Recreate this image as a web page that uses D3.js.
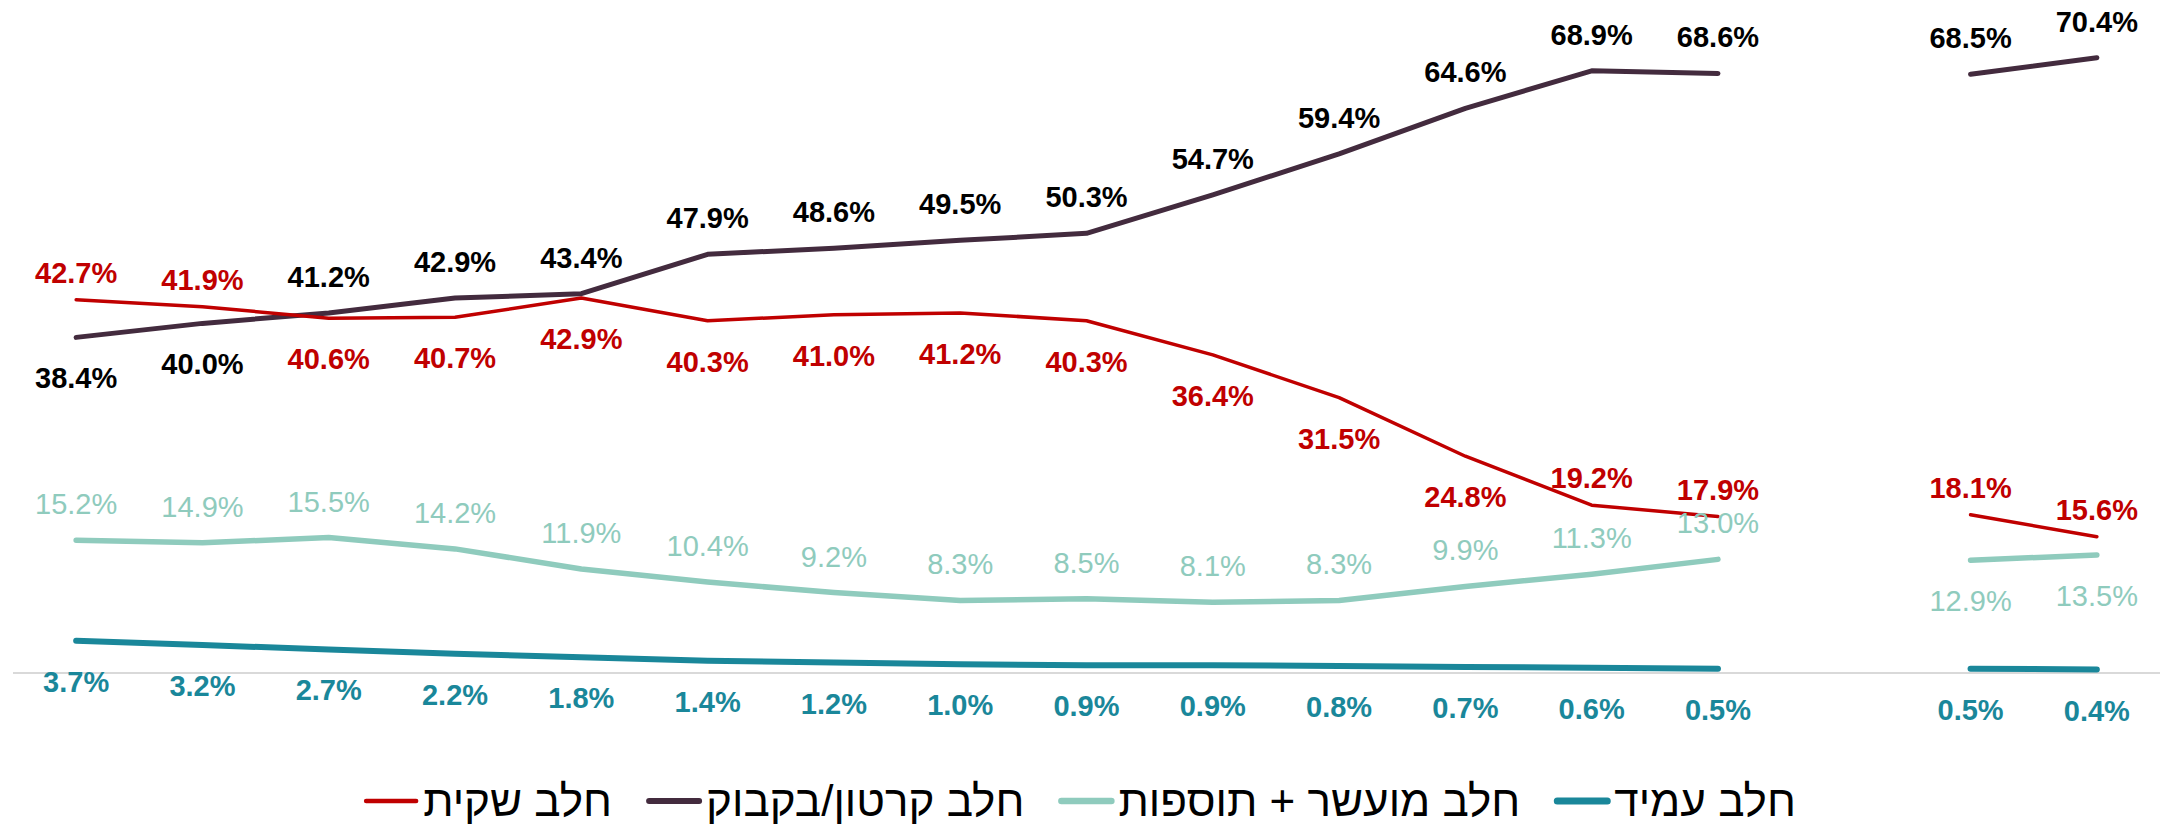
<!DOCTYPE html>
<html>
<head>
<meta charset="utf-8">
<script src="https://cdn.jsdelivr.net/npm/d3@7"></script>
<style>
	html, body { margin: 0; padding: 0; background: #fff; }
	svg { display: block; }
	.lbl { font-family: "Liberation Sans", Arial, sans-serif; font-size: 29px; }
	.legend text { font-family: "Liberation Sans", Arial, sans-serif; font-size: 44px; fill: #000; }
</style>
</head>
<body>
<svg id="chart" width="2173" height="826"></svg>
<script>
// 17 slots along the x axis, one of them is an empty gap in the source chart
const categories = ["1","2","3","4","5","6","7","8","9","10","11","12","13","14","gap","15","16"];

const bagMilk      = [42.7, 41.9, 40.6, 40.7, 42.9, 40.3, 41.0, 41.2, 40.3, 36.4, 31.5, 24.8, 19.2, 17.9, null, 18.1, 15.6];
const cartonMilk   = [38.4, 40.0, 41.2, 42.9, 43.4, 47.9, 48.6, 49.5, 50.3, 54.7, 59.4, 64.6, 68.9, 68.6, null, 68.5, 70.4];
const enrichedMilk = [15.2, 14.9, 15.5, 14.2, 11.9, 10.4, 9.2, 8.3, 8.5, 8.1, 8.3, 9.9, 11.3, 13.0, null, 12.9, 13.5];
const uhtMilk      = [3.7, 3.2, 2.7, 2.2, 1.8, 1.4, 1.2, 1.0, 0.9, 0.9, 0.8, 0.7, 0.6, 0.5, null, 0.5, 0.4];

const seriesNames = ["חלב שקית", "חלב קרטון/בקבוק", "חלב מועשר + תוספות", "חלב עמיד"];

// which side of the point each data label sits on (a = above, b = below)
const bagSide      = "aabbbbbbbbbbaa-aa";
const cartonSide   = "bbaaaaaaaaaaaa-aa";
const enrichedSide = "aaaaaaaaaaaaaa-bb";
const uhtSide      = "bbbbbbbbbbbbbb-bb";

const series = [
	{ name: seriesNames[0], values: bagMilk,      side: bagSide,      color: "#C00000", text: "#C00000", width: 3.5, weight: "bold",   up: 17 },
	{ name: seriesNames[1], values: cartonMilk,   side: cartonSide,   color: "#432B3E", text: "#000000", width: 5,   weight: "bold",   up: 26 },
	{ name: seriesNames[2], values: enrichedMilk, side: enrichedSide, color: "#8FCBBD", text: "#8FCBBD", width: 5.5, weight: "normal", up: 26 },
	{ name: seriesNames[3], values: uhtMilk,      side: uhtSide,      color: "#1A879A", text: "#1A879A", width: 6,   weight: "bold",   up: 26 }
];

const svg = d3.select("#chart");

const x = d3.scaleBand()
	.domain(categories)
	.range([13, 2160]);

const y = d3.scaleLinear()
	.domain([0, 77])
	.range([673, 0]);

const cx = (d, i) => x(categories[i]) + x.bandwidth() / 2;

// baseline
svg.append("line")
	.attr("x1", x.range()[0])
	.attr("x2", x.range()[1])
	.attr("y1", y(0))
	.attr("y2", y(0))
	.attr("stroke", "#D9D9D9")
	.attr("stroke-width", 2);

const line = d3.line()
	.defined(d => d != null)
	.x(cx)
	.y(d => y(d));

// draw from back to front like the original
[3, 2, 1, 0].forEach(k => {
	let s = series[k];
	svg.append("path")
		.datum(s.values)
		.attr("fill", "none")
		.attr("stroke", s.color)
		.attr("stroke-width", s.width)
		.attr("stroke-linecap", "round")
		.attr("stroke-linejoin", "round")
		.attr("d", line);
});

series.forEach(s => {
	let pts = s.values.map((v, i) => ({ v: v, i: i, side: s.side[i] })).filter(p => p.v != null);
	svg.append("g")
		.selectAll("text")
		.data(pts)
		.enter()
		.append("text")
		.attr("class", "lbl")
		.attr("text-anchor", "middle")
		.attr("fill", s.text)
		.attr("font-weight", s.weight)
		.attr("x", p => cx(p.v, p.i))
		.attr("y", p => p.side == "a" ? y(p.v) - s.up : y(p.v) + 51)
		.text(p => p.v.toFixed(1) + "%");
});

// legend
const legend = svg.append("g").attr("class", "legend");
const lineLen = 50, gapText = 7, gapItem = 37, legendY = 801;
let items = legend.selectAll("g")
	.data(series)
	.enter()
	.append("g");

items.append("line")
	.attr("x1", 0).attr("x2", lineLen)
	.attr("y1", 0).attr("y2", 0)
	.attr("stroke", d => d.color)
	.attr("stroke-width", d => d.width + 1)
	.attr("stroke-linecap", "round");

items.append("text")
	.attr("x", lineLen + gapText)
	.attr("y", 15)
	.text(d => d.name);

let widths = [];
items.each(function() {
	widths.push(lineLen + gapText + d3.select(this).select("text").node().getComputedTextLength());
});
let total = d3.sum(widths) + gapItem * (widths.length - 1);
let startX = 1081 - total / 2;
items.attr("transform", (d, i) => {
	let off = startX + d3.sum(widths.slice(0, i)) + gapItem * i;
	return "translate(" + off + "," + legendY + ")";
});
</script>
</body>
</html>
